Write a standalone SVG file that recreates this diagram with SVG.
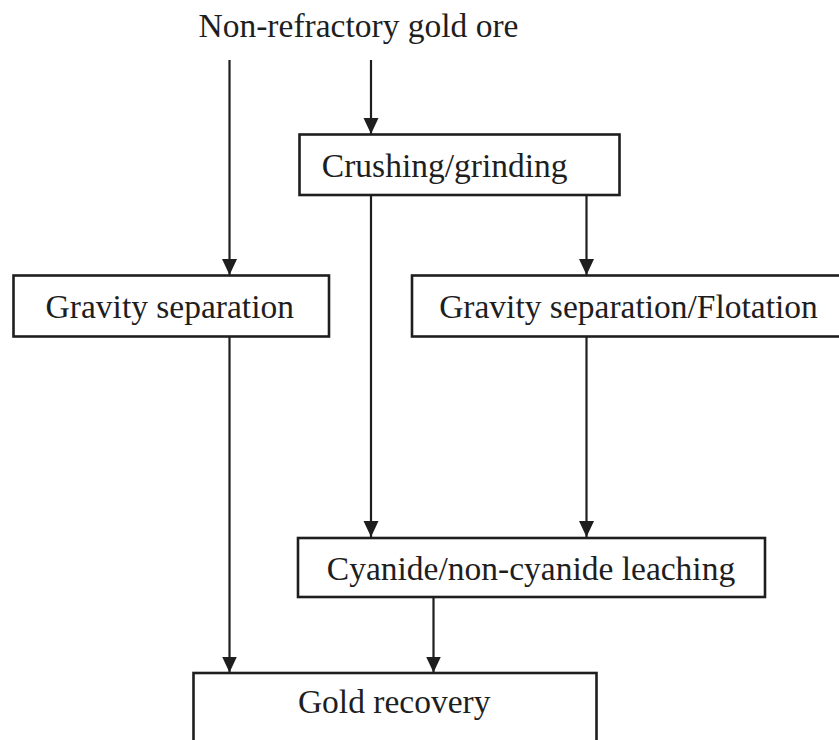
<svg xmlns="http://www.w3.org/2000/svg" width="839" height="740" viewBox="0 0 839 740">
  <style>
    .box { fill: #ffffff; stroke: #1e1e1e; stroke-width: 2.6; }
    .lbl { font-family: "Liberation Serif", "Times New Roman", serif; font-size: 33.5px; fill: #1e1e1e; text-anchor: middle; }
    .conn { stroke: #1e1e1e; stroke-width: 2.2; fill: none; marker-end: url(#arrow); }
  </style>
  <defs>
    <marker id="arrow" markerUnits="userSpaceOnUse" markerWidth="17" markerHeight="17" refX="16" refY="7.5" orient="auto">
      <path d="M0,0 L16,7.5 L0,15 Z" fill="#1e1e1e"/>
    </marker>
  </defs>
  <rect width="839" height="740" fill="#ffffff"/>

  <g id="connectors">
    <line class="conn" x1="229.5" y1="60" x2="229.5" y2="275"/>
    <line class="conn" x1="371" y1="60" x2="371" y2="134"/>
    <line class="conn" x1="371" y1="195" x2="371" y2="537"/>
    <line class="conn" x1="586.5" y1="195" x2="586.5" y2="275"/>
    <line class="conn" x1="229.5" y1="336.5" x2="229.5" y2="672.5"/>
    <line class="conn" x1="586.5" y1="336.5" x2="586.5" y2="537"/>
    <line class="conn" x1="433.5" y1="597" x2="433.5" y2="672.5"/>
  </g>

  <g id="ore">
    <text class="lbl" x="358.5" y="37">Non-refractory gold ore</text>
  </g>
  <g id="crushing">
    <rect class="box" x="299.5" y="134.5" width="320" height="60.5"/>
    <text class="lbl" x="444.7" y="177">Crushing/grinding</text>
  </g>
  <g id="gravity">
    <rect class="box" x="13.5" y="275.5" width="315.5" height="61"/>
    <text class="lbl" x="169.8" y="318">Gravity separation</text>
  </g>
  <g id="gravity-flotation">
    <rect class="box" x="412" y="275.5" width="440" height="61"/>
    <text class="lbl" x="628.5" y="318">Gravity separation/Flotation</text>
  </g>
  <g id="leaching">
    <rect class="box" x="298" y="538" width="467" height="59"/>
    <text class="lbl" x="531" y="580">Cyanide/non-cyanide leaching</text>
  </g>
  <g id="recovery">
    <rect class="box" x="193.5" y="673" width="403" height="100"/>
    <text class="lbl" x="394.2" y="713">Gold recovery</text>
  </g>
</svg>
